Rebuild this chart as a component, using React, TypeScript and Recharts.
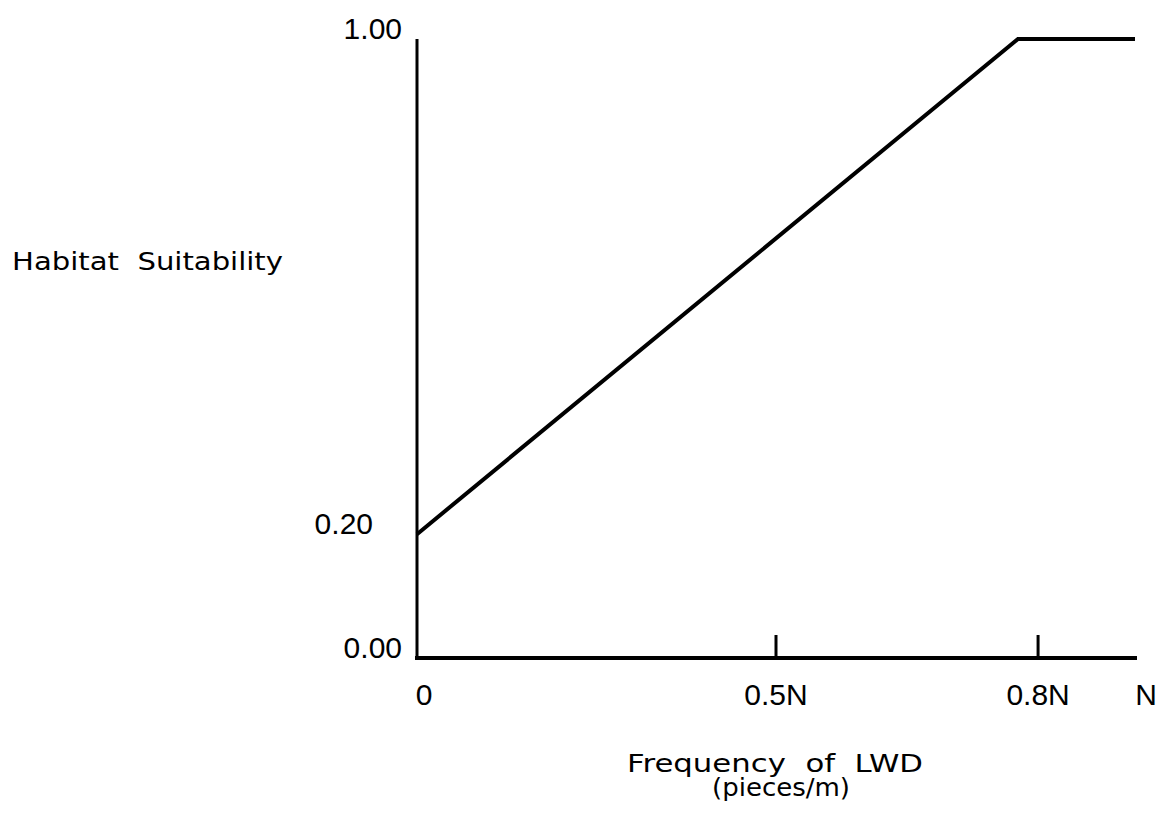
import { Line, LineChart, XAxis, YAxis } from 'recharts';

// x positions follow the drawing (schematic axis, not to scale)
const X_TICKS = [0, 0.5, 0.865, 1];
const X_LABELS = ['0', '0.5N', '0.8N', 'N'];
const MARKED_TICKS = ['0.5N', '0.8N'];

const Y_TICKS = [0, 0.2, 1];
const Y_LABELS = ['0.00', '0.20', '1.00'];

const CURVE_X = [0, 0.837, 1];
const CURVE_Y = [0.2, 1, 1];

const Y_TITLE = 'Habitat  Suitability';
const X_TITLE = ['Frequency  of  LWD', '(pieces/m)'];

const data = CURVE_X.map((x, i) => ({ x, y: CURVE_Y[i] }));

const TICK_FONT = '"Liberation Sans", Arial, sans-serif';
const TITLE_FONT = '"DejaVu Sans", sans-serif';

// hand-placed label nudges seen in the original figure
const X_NUDGE: Record<string, number> = { '0': 7, N: 11 };
const Y_NUDGE: Record<string, number> = { '0.20': -29 };

function XTick({ x, y, payload }: { x?: number; y?: number; payload?: { value: number } }) {
  const idx = X_TICKS.indexOf(payload?.value ?? -1);
  const label = X_LABELS[idx] ?? '';
  const cx = (x ?? 0) + (X_NUDGE[label] ?? 0);
  return (
    <g>
      {MARKED_TICKS.includes(label) && (
        <line x1={x} x2={x} y1={y} y2={(y ?? 0) - 23} stroke="#000" strokeWidth={3} />
      )}
      <text x={cx} y={(y ?? 0) + 47} textAnchor="middle" fontFamily={TICK_FONT} fontSize={30} fill="#000">
        {label}
      </text>
    </g>
  );
}

function YTick({ x, y, payload }: { x?: number; y?: number; payload?: { value: number } }) {
  const idx = Y_TICKS.indexOf(payload?.value ?? -1);
  const label = Y_LABELS[idx] ?? '';
  return (
    <text
      x={(x ?? 0) + (Y_NUDGE[label] ?? 0)}
      y={y}
      textAnchor="end"
      fontFamily={TICK_FONT}
      fontSize={30}
      fill="#000"
    >
      {label}
    </text>
  );
}

function XTitle({ viewBox }: { viewBox?: { x: number; y: number; width: number; height: number } }) {
  if (!viewBox) return null;
  const cx = viewBox.x + viewBox.width / 2;
  return (
    <g fontFamily={TITLE_FONT} fontSize={24} fill="#000">
      <text
        x={cx - 1}
        y={viewBox.y + 114}
        textAnchor="middle"
        textLength={296}
        lengthAdjust="spacingAndGlyphs"
        style={{ whiteSpace: 'pre' }}
      >
        {X_TITLE[0]}
      </text>
      <text x={cx + 5} y={viewBox.y + 138} textAnchor="middle" textLength={138} lengthAdjust="spacingAndGlyphs">
        {X_TITLE[1]}
      </text>
    </g>
  );
}

function YTitle({ viewBox }: { viewBox?: { x: number; y: number; width: number; height: number } }) {
  if (!viewBox) return null;
  return (
    <text
      x={viewBox.x + 12}
      y={viewBox.y + 231}
      fontFamily={TITLE_FONT}
      fontSize={24}
      fill="#000"
      textLength={271}
      lengthAdjust="spacingAndGlyphs"
      style={{ whiteSpace: 'pre' }}
    >
      {Y_TITLE}
    </text>
  );
}

export default function App() {
  return (
    <div style={{ position: 'absolute', left: 0, top: 0, width: 1162, height: 821, background: '#fff' }}>
      <LineChart
        width={1162}
        height={821}
        data={data}
        margin={{ top: 39, right: 27, left: 0, bottom: 103 }}
        style={{ overflow: 'visible' }}
      >
        <XAxis
          dataKey="x"
          type="number"
          domain={[0, 1]}
          ticks={X_TICKS}
          interval={0}
          tickSize={0}
          tickMargin={0}
          tickLine={false}
          height={60}
          axisLine={{ stroke: '#000', strokeWidth: 4, strokeLinecap: 'square' }}
          tick={<XTick />}
          label={<XTitle />}
        />
        <YAxis
          type="number"
          domain={[0, 1]}
          ticks={Y_TICKS}
          interval={0}
          width={417}
          tickSize={0}
          tickMargin={15}
          tickLine={false}
          axisLine={{ stroke: '#000', strokeWidth: 3 }}
          tick={<YTick />}
          label={<YTitle />}
        />
        <Line
          dataKey="y"
          type="linear"
          stroke="#000"
          strokeWidth={4}
          dot={false}
          activeDot={false}
          isAnimationActive={false}
        />
      </LineChart>
    </div>
  );
}
